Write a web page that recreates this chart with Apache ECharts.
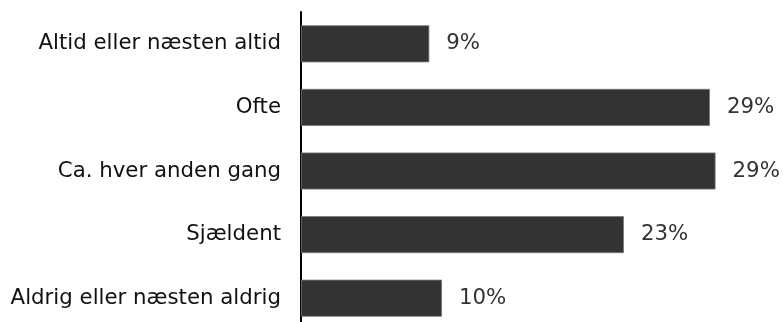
<!DOCTYPE html>
<html>
<head>
<meta charset="utf-8">
<script src="https://cdn.jsdelivr.net/npm/echarts@6/dist/echarts.min.js"></script>
<style>html,body{margin:0;padding:0;background:#fff}#c{width:783px;height:322px}</style>
</head>
<body>
<div id="c"></div>
<script>
const categories = ['Altid eller næsten altid', 'Ofte', 'Ca. hver anden gang', 'Sjældent', 'Aldrig eller næsten aldrig'];
const values = [9.1, 29.0, 29.4, 22.9, 10.0];
const valueLabels = ['9%', '29%', '29%', '23%', '10%'];

const chart = echarts.init(document.getElementById('c'), null, {renderer: 'canvas'});
chart.setOption({
  animation: false,
  grid: {left: 301, width: 423, top: 12, height: 318, containLabel: false, outerBoundsMode: 'none'},
  xAxis: {
    type: 'value', min: 0, max: 30,
    show: false
  },
  yAxis: {
    type: 'category',
    data: categories,
    inverse: true,
    axisLine: {show: true, lineStyle: {color: '#000', width: 2}},
    axisTick: {show: false},
    axisLabel: {
      margin: 20,
      color: '#111',
      fontFamily: 'DejaVu Sans',
      fontSize: 21.3
    }
  },
  series: [{
    type: 'bar',
    data: values,
    barWidth: 37,
    itemStyle: {color: '#333333', borderColor: '#777', borderWidth: 0.8},
    label: {
      show: true,
      position: 'right',
      distance: 17,
      color: '#333',
      fontFamily: 'DejaVu Sans',
      fontSize: 21.3,
      formatter: p => valueLabels[p.dataIndex]
    }
  }]
});
</script>
</body>
</html>
